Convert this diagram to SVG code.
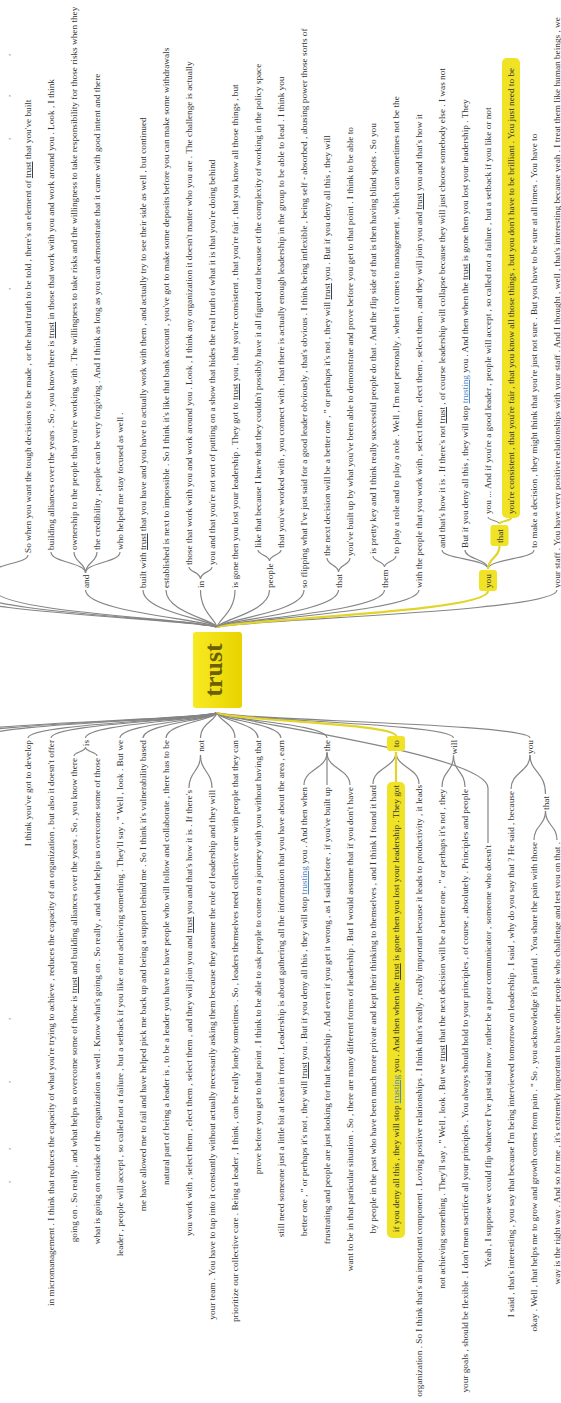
<svg xmlns="http://www.w3.org/2000/svg" width="561" height="1403" viewBox="0 0 561 1403">
<style>
  text { font-family: "Liberation Serif", "Times New Roman", serif; font-size: 9.25px; fill: #333; }
  .e { text-anchor: end; }
  .k { text-decoration: underline; }
  .kb { text-decoration: underline; fill: #4a82c4; }
  .lnk { fill: none; stroke: #858585; stroke-width: 1.2; }
  .hl { fill: none; stroke: #e2d42a; stroke-width: 2.2; }
  .hbox { fill: #f0e225; }
  .mark { fill: #777; }
  .root-label { font-size: 26px; font-weight: bold; fill: #6b5f00; text-anchor: middle; }
</style>
<defs>
  <linearGradient id="rootFill" x1="0" y1="0" x2="0" y2="1">
    <stop offset="0" stop-color="#f8ea22"/>
    <stop offset="1" stop-color="#e8d300"/>
  </linearGradient>
</defs>
<rect width="561" height="1403" fill="#ffffff"/>

<!-- the tree is laid out left-to-right and turned a quarter turn -->
<g transform="translate(0,1403) rotate(-90)">

  <g id="connectors">
    <!-- following context: root to first level -->
    <path class="lnk" d="M775,217 C783,217 790,-55 813,-55"/>
    <path class="lnk" d="M775,217 C783,217 790,-30 813,-30"/>
    <path class="lnk" d="M775,217 C783,217 790,-5 813,-5"/>
    <path class="lnk" d="M775,217 C783,217 790,85.5 813,85.5"/>
    <path class="lnk" d="M775,217 C783,217 790,143 813,143"/>
    <path class="lnk" d="M775,217 C783,217 790,166 813,166"/>
    <path class="lnk" d="M775,217 C783,217 790,200.5 813,200.5"/>
    <path class="lnk" d="M775,217 C783,217 790,235 813,235"/>
    <path class="lnk" d="M775,217 C783,217 790,269.5 813,269.5"/>
    <path class="lnk" d="M775,217 C783,217 790,304 813,304"/>
    <path class="lnk" d="M775,217 C783,217 790,338.5 813,338.5"/>
    <path class="lnk" d="M775,217 C783,217 790,384.5 813,384.5"/>
    <path class="lnk" d="M775,217 C783,217 790,419 813,419"/>
    <path class="lnk" d="M775,217 C783,217 790,557 813,557"/>
    <!-- following context: braces -->
    <path class="lnk" d="M831,-5 C839.5,-5 839.5,28 848,28"/>
    <path class="lnk" d="M831,-5 C839.5,-5 839.5,-38 848,-38"/>
    <path class="lnk" d="M830,85.5 C840.5,85.5 840.5,51 851,51"/>
    <path class="lnk" d="M830,85.5 C840.5,85.5 840.5,74 851,74"/>
    <path class="lnk" d="M830,85.5 C840.5,85.5 840.5,97 851,97"/>
    <path class="lnk" d="M830,85.5 C840.5,85.5 840.5,120 851,120"/>
    <path class="lnk" d="M824,200.5 C831,200.5 831,189 836,189"/>
    <path class="lnk" d="M824,200.5 C831,200.5 831,212 836,212"/>
    <path class="lnk" d="M842,269.5 C848,269.5 848,258 853,258"/>
    <path class="lnk" d="M842,269.5 C848,269.5 848,281 853,281"/>
    <path class="lnk" d="M831,338.5 C838,338.5 838,327 845,327"/>
    <path class="lnk" d="M831,338.5 C838,338.5 838,350 845,350"/>
    <path class="lnk" d="M836,384.5 C841.5,384.5 841.5,373 847,373"/>
    <path class="lnk" d="M836,384.5 C841.5,384.5 841.5,396 847,396"/>
    <path class="lnk" d="M834,488 C844,488 844,442 853,442"/>
    <path class="lnk" d="M834,488 C844,488 844,465 853,465"/>
    <path class="lnk" d="M834,488 C844,488 844,534 853,534"/>
    <path class="lnk" d="M879,499.5 C882.5,499.5 882.5,488 886,488"/>

    <!-- preceding context: root to first level -->
    <path class="lnk" d="M691,217 C683,217 680,-64 665,-64"/>
    <path class="lnk" d="M691,217 C683,217 680,-41 665,-41"/>
    <path class="lnk" d="M691,217 C683,217 680,-18 665,-18"/>
    <path class="lnk" d="M691,217 C683,217 680,28 665,28"/>
    <path class="lnk" d="M691,217 C683,217 680,51 665,51"/>
    <path class="lnk" d="M691,217 C683,217 680,85.5 665,85.5"/>
    <path class="lnk" d="M691,217 C683,217 680,120 665,120"/>
    <path class="lnk" d="M691,217 C683,217 680,143 665,143"/>
    <path class="lnk" d="M691,217 C683,217 680,166 665,166"/>
    <path class="lnk" d="M691,217 C683,217 680,200.5 665,200.5"/>
    <path class="lnk" d="M691,217 C683,217 680,235 665,235"/>
    <path class="lnk" d="M691,217 C683,217 680,258 665,258"/>
    <path class="lnk" d="M691,217 C683,217 680,281 665,281"/>
    <path class="lnk" d="M691,217 C683,217 680,327 665,327"/>
    <path class="lnk" d="M691,217 C683,217 680,453.5 665,453.5"/>
    <path class="lnk" d="M691,217 C683,217 650,488 615,488 L560,488"/>
    <path class="lnk" d="M691,217 C683,217 680,530 665,530"/>
    <!-- preceding context: braces -->
    <path class="lnk" d="M655.7,85.5 C651,85.5 651,74 647,74"/>
    <path class="lnk" d="M655.7,85.5 C651,85.5 651,97 647,97"/>
    <path class="lnk" d="M648,200.5 C631.5,200.5 631.5,189 615,189"/>
    <path class="lnk" d="M648,200.5 C631.5,200.5 631.5,212 615,212"/>
    <path class="lnk" d="M650.5,327 C634,327 634,304 618,304"/>
    <path class="lnk" d="M650.5,327 C634,327 634,327 618,327"/>
    <path class="lnk" d="M650.5,327 C634,327 634,350 618,350"/>
    <path class="lnk" d="M651,396 C635.5,396 635.5,373 619,373"/>
    <path class="lnk" d="M651,396 C635.5,396 635.5,419 619,419"/>
    <path class="lnk" d="M647.4,453.5 C631.7,453.5 631.7,442 616,442"/>
    <path class="lnk" d="M647.4,453.5 C631.7,453.5 631.7,465 616,465"/>
    <path class="lnk" d="M647.9,530 C631,530 631,511 614,511"/>
    <path class="lnk" d="M647.9,530 C631,530 631,545.5 609,545.5"/>
    <path class="lnk" d="M592,545.5 C577.5,545.5 577.5,534 563,534"/>
    <path class="lnk" d="M592,545.5 C577.5,545.5 577.5,557 563,557"/>

    <!-- selected branch -->
    <path class="hl" d="M775,217 C783,217 790,488 812,488"/>
    <path class="hl" d="M834,488 C845,488 845,499.5 857,499.5"/>
    <path class="hl" d="M879,499.5 C882,499.5 882,511 885,511"/>
    <path class="hl" d="M691,217 C683,217 680,396 667,396"/>
    <path class="hl" d="M651,396 C636,396 636,396 620,396"/>
  </g>

  <g id="node-trust">
    <rect x="695" y="193" width="76" height="49" rx="3" fill="url(#rootFill)"/>
    <text class="root-label" x="733" y="222">trust</text>
  </g>

  <!-- following context -->
  <g id="next-cut">
    <text class="mark" x="1347" y="10">,</text>
    <text class="mark" x="1306" y="10">,</text>
    <text class="mark" x="1263" y="10">,</text>
    <text class="mark" x="1113" y="10">,</text>
  </g>
  <g id="next-so-when"><text x="850" y="31">So when you want the tough decisions to be made , or the hard truth to be told , there's an element of <tspan class="k">trust</tspan> that you've built</text></g>
  <g id="next-and">
    <text x="815" y="88.5">and</text>
    <text x="853" y="54">building alliances over the years . So , you know there is <tspan class="k">trust</tspan> in those that work with you and work around you . Look , I think</text>
    <text x="853" y="77">ownership to the people that you're working with . The willingness to take risks and the willingness to take responsibility for those risks when they</text>
    <text x="853" y="100">the credibility , people can be very forgiving . And I think as long as you can demonstrate that it came with good intent and there</text>
    <text x="853" y="123">who helped me stay focused as well .</text>
  </g>
  <g id="next-built"><text x="815" y="146">built with <tspan class="k">trust</tspan> that you have and you have to actually work with them , and actually try to see their side as well , but continued</text></g>
  <g id="next-established"><text x="815" y="169">established is next to impossible . So I think it's like that bank account , you've got to make some deposits before you can make some withdrawals</text></g>
  <g id="next-in">
    <text x="815" y="203.5">in</text>
    <text x="838" y="192">those that work with you and work around you . Look , I think any organization it doesn't matter who you are . The challenge is actually</text>
    <text x="838" y="215">you and that you're not sort of putting on a show that hides the real truth of what it is that you're doing behind</text>
  </g>
  <g id="next-is-gone"><text x="815" y="238">is gone then you lost your leadership . They got to <tspan class="k">trust</tspan> you , that you're consistent , that you're fair , that you know all those things , but</text></g>
  <g id="next-people">
    <text x="815" y="272.5">people</text>
    <text x="855" y="261">like that because I knew that they couldn't possibly have it all figured out because of the complexity of working in the policy space</text>
    <text x="855" y="284">that you've worked with , you connect with , that there is actually enough leadership in the group to be able to lead . I think you</text>
  </g>
  <g id="next-so-flipping"><text x="815" y="307">so flipping what I've just said for a good leader obviously , that's obvious . I think being inflexible , being self - absorbed , abusing power those sorts of</text></g>
  <g id="next-that">
    <text x="815" y="341.5">that</text>
    <text x="847" y="330">the next decision will be a better one , " or perhaps it's not , they will <tspan class="k">trust</tspan> you . But if you deny all this , they will</text>
    <text x="847" y="353">you've built up by what you've been able to demonstrate and prove before you get to that point . I think to be able to</text>
  </g>
  <g id="next-them">
    <text x="815" y="387.5">them</text>
    <text x="849" y="376">is pretty key and I think really successful people do that . And the flip side of that is then having blind spots . So you</text>
    <text x="849" y="399">to play a role and to play a role . Well , I'm not personally , when it comes to management , which can sometimes not be the</text>
  </g>
  <g id="next-with-the-people"><text x="815" y="422">with the people that you work with , select them , elect them , select them , and they will join you and <tspan class="k">trust</tspan> you and that's how it</text></g>
  <g id="next-you">
    <rect class="hbox" x="812" y="479" width="21" height="18" rx="3"/>
    <text x="815" y="491">you</text>
    <text x="855" y="445">and that's how it is . If there's not <tspan class="k">trust</tspan> , of course leadership will collapse because they will just choose somebody else . I was not</text>
    <text x="855" y="468">But if you deny all this , they will stop <tspan class="kb">trusting</tspan> you . And then when the <tspan class="k">trust</tspan> is gone then you lost your leadership . They</text>
    <text x="855" y="537">to make a decision , they might think that you're just not sure . But you have to be sure at all times . You have to</text>
  </g>
  <g id="next-you-that">
    <rect class="hbox" x="857" y="490.5" width="21" height="18" rx="3"/>
    <text x="860" y="502.5">that</text>
    <text x="889" y="491">you ... And if you're a good leader , people will accept , so called not a failure , but a setback if you like or not</text>
    <rect class="hbox" x="885" y="502" width="460" height="18" rx="5"/>
    <text x="889" y="514">you're consistent , that you're fair , that you know all those things , but you don't have to be brilliant . You just need to be</text>
  </g>
  <g id="next-your-staff"><text x="815" y="560">your staff . You have very positive relationships with your staff . And I thought , well , that's interesting because yeah . I treat them like human beings , we</text></g>

  <!-- preceding context -->
  <g id="prev-cut">
    <text class="mark" x="383" y="10">,</text>
    <text class="mark" x="320" y="10">,</text>
    <text class="mark" x="253" y="10">,</text>
    <text class="mark" x="220" y="10">,</text>
  </g>
  <g id="prev-develop"><text class="e" x="663" y="31">I think you've got to develop</text></g>
  <g id="prev-offer"><text class="e" x="663" y="54">in micromanagement . I think that reduces the capacity of what you're trying to achieve , reduces the capacity of an organization , but also it doesn't offer</text></g>
  <g id="prev-is">
    <text class="e" x="663" y="88.5">is</text>
    <text class="e" x="645" y="77">going on . So really , and what helps us overcome some of those is <tspan class="k">trust</tspan> and building alliances over the years . So , you know there</text>
    <text class="e" x="645" y="100">what is going on outside of the organization as well . Know what's going on . So really , and what helps us overcome some of those</text>
  </g>
  <g id="prev-but-we"><text class="e" x="663" y="123">leader , people will accept , so called not a failure , but a setback if you like or not achieving something . They'll say , " Well , look . But we</text></g>
  <g id="prev-based"><text class="e" x="663" y="146">me have allowed me to fail and have helped pick me back up and being a support behind me . So I think it's vulnerability based</text></g>
  <g id="prev-has-to-be"><text class="e" x="663" y="169">natural part of being a leader is , to be a leader you have to have people who will follow and collaborate , there has to be</text></g>
  <g id="prev-not">
    <text class="e" x="663" y="203.5">not</text>
    <text class="e" x="613" y="192">you work with , select them , elect them , select them , and they will join you and <tspan class="k">trust</tspan> you and that's how it is . If there's</text>
    <text class="e" x="613" y="215">your team . You have to tap into it constantly without actually necessarily asking them because they assume the role of leadership and they will</text>
  </g>
  <g id="prev-they-can"><text class="e" x="663" y="238">prioritize our collective care . Being a leader , I think , can be really lonely sometimes . So , leaders themselves need collective care with people that they can</text></g>
  <g id="prev-having-that"><text class="e" x="663" y="261">prove before you get to that point . I think to be able to ask people to come on a journey with you without having that</text></g>
  <g id="prev-earn"><text class="e" x="663" y="284">still need someone just a little bit at least in front . Leadership is about gathering all the information that you have about the area , earn</text></g>
  <g id="prev-the">
    <text class="e" x="663" y="330">the</text>
    <text class="e" x="616" y="307">better one , " or perhaps it's not , they will <tspan class="k">trust</tspan> you . But if you deny all this , they will stop <tspan class="kb">trusting</tspan> you . And then when</text>
    <text class="e" x="616" y="330">frustrating and people are just looking for that leadership . And even if you get it wrong , as I said before , if you've built up</text>
    <text class="e" x="616" y="353">want to be in that particular situation . So , there are many different forms of leadership . But I would assume that if you don't have</text>
  </g>
  <g id="prev-to">
    <rect class="hbox" x="652" y="387" width="15" height="18" rx="3"/>
    <text class="e" x="663" y="399">to</text>
    <text class="e" x="618" y="376">by people in the past who have been much more private and kept their thinking to themselves , and I think I found it hard</text>
    <rect class="hbox" x="165" y="387" width="456" height="18" rx="5"/>
    <text class="e" x="618" y="399">if you deny all this , they will stop <tspan class="kb">trusting</tspan> you . And then when the <tspan class="k">trust</tspan> is gone then you lost your leadership . They got</text>
    <text class="e" x="618" y="422">organization . So I think that's an important component . Loving positive relationships . I think that's really , really important because it leads to productivity , it leads</text>
  </g>
  <g id="prev-will">
    <text class="e" x="663" y="456.5">will</text>
    <text class="e" x="614" y="445">not achieving something . They'll say , " Well , look . But we <tspan class="k">trust</tspan> that the next decision will be a better one , " or perhaps it's not , they</text>
    <text class="e" x="614" y="468">your goals , should be flexible . I don't mean sacrifice all your principles . You always should hold to your principles , of course , absolutely . Principles and people</text>
  </g>
  <g id="prev-doesnt"><text class="e" x="558" y="491">Yeah , I suppose we could flip whatever I've just said now , rather be a poor communicator , someone who doesn't</text></g>
  <g id="prev-you">
    <text class="e" x="663" y="533">you</text>
    <text class="e" x="612" y="514">I said , that's interesting , you say that because I'm being interviewed tomorrow on leadership . I said , why do you say that ? He said , because</text>
  </g>
  <g id="prev-you-that">
    <text class="e" x="607" y="548.5">that</text>
    <text class="e" x="561" y="537">okay . Well , that helps me to grow and growth comes from pain . " So , you acknowledge it's painful . You share the pain with those</text>
    <text class="e" x="561" y="560">way is the right way . And so for me , it's extremely important to have other people who challenge and test you on that .</text>
  </g>
</g>
</svg>
